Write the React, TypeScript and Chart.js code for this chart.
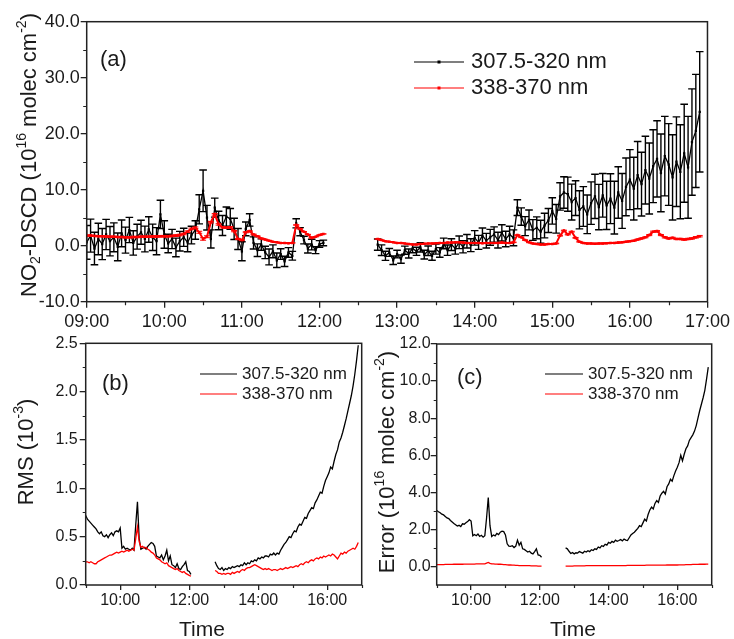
import React, { useEffect, useRef } from 'react';
import { Chart, registerables } from 'chart.js';

Chart.register(...registerables);

// ---------------- DATA ----------------
// sampling times, minutes after midnight (09:00 = 540)
const times = [
  540, 543, 546, 549, 552, 555, 558, 561, 564, 567, 570, 573, 576, 579, 582, 585, 588, 591, 594, 597,
  600, 603, 606, 609, 612, 615, 618, 621, 624, 627, 630, 633, 636, 639, 642, 645, 648, 651, 654, 657,
  660, 663, 666, 669, 672, 675, 678, 681, 684, 687, 690, 693, 696, 699, 702, 705, 708, 711, 714, 717,
  720, 723,
  765, 768, 771, 774, 777, 780, 783, 786, 789, 792, 795, 798, 801, 804, 807, 810, 813, 816, 819, 822,
  825, 828, 831, 834, 837, 840, 843, 846, 849, 852, 855, 858, 861, 864, 867, 870, 873, 876, 879, 882,
  885, 888, 891, 894, 897, 900, 903, 906, 909, 912, 915, 918, 921, 924, 927, 930, 933, 936, 939, 942,
  945, 948, 951, 954, 957, 960, 963, 966, 969, 972, 975, 978, 981, 984, 987, 990, 993, 996, 999, 1002,
  1005, 1008, 1011, 1014,
];

const seriesLabels = ['307.5-320 nm', '338-370 nm'];

// NO2 DSCD, 307.5-320 nm fit (10^16 molec cm^-2)
const no2Uv = [
  0.6, 1.8, -0.5, 1.2, 0.3, 2.0, 0.8, 1.5, -0.2, 2.2, 1.0, 2.8, 0.5, 1.6, 2.4, 1.2, 2.9, 1.5, 0.8, 5.6,
  2.0, 0.4, 1.2, -0.3, 0.8, 1.5, 0.6, 1.9, 2.8, 6.5, 9.8, 5.0, 1.2, 6.8, 4.5, 3.6, 5.2, 4.8, 3.0, 1.2,
  -1.0, 3.0, 4.6, 0.5, -0.8, 0.2, -1.2, -2.0, -1.0, -2.6, -1.5, -2.8, -1.2, -1.8, 4.0, 2.5, 1.0, -0.5, 0.2, -0.8,
  0.3, 0.5,
  0.2, -0.8, -1.8, -1.2, -2.6, -1.5, -2.4, -0.8, -1.4, -0.5, -1.0, -0.3, -1.6, -0.9, -1.8, -0.6, -1.2, 0.4, -0.8, 0.2,
  -0.5, 0.6, -0.2, 0.8, 0.1, 1.4, 0.6, 1.8, 0.9, 1.5, 2.0, 1.0, 2.3, 1.2, 2.0, 1.4, 6.8, 5.2, 3.5, 4.6,
  2.8, 3.2, 2.5, 3.6, 4.5, 6.2, 4.8, 8.8, 9.5, 9.2, 7.8, 8.5, 6.4, 7.0, 5.6, 7.6, 8.8, 6.9, 9.0, 7.2,
  8.4, 6.8, 9.5, 8.0, 10.5, 11.8, 10.2, 12.6, 11.0, 13.5, 12.0, 14.2, 15.5, 13.0, 16.0, 14.5, 12.2, 15.0, 13.2, 16.5,
  14.0, 18.5, 20.5, 23.9,
];

// fit error, 307.5-320 nm (10^16 molec cm^-2)
const no2UvErr = [
  3.02, 2.95, 2.90, 2.82, 2.78, 2.70, 2.62, 2.58, 2.48, 2.40, 2.32, 2.25, 2.18, 2.22, 2.15, 2.30, 2.28, 2.36, 2.42, 2.52,
  2.45, 1.65, 1.72, 1.66, 1.75, 1.62, 1.68, 1.58, 1.66, 2.60, 3.72, 2.20, 1.62, 1.70, 1.65, 1.78, 1.72, 1.85, 1.90, 1.88,
  1.70, 1.22, 1.10, 1.08, 1.12, 1.02, 1.10, 1.42, 1.15, 1.30, 0.95, 0.92, 0.85, 0.78, 0.82, 0.72, 0.68, 0.80, 0.95, 0.62,
  0.60, 0.50,
  1.00, 0.95, 0.82, 0.70, 0.75, 0.68, 0.74, 0.72, 0.80, 0.76, 0.72, 0.82, 0.78, 0.85, 0.80, 0.90, 0.86, 0.95, 0.92, 1.05,
  1.00, 1.12, 1.08, 1.20, 1.15, 1.30, 1.25, 1.35, 1.30, 1.42, 1.36, 1.40, 1.45, 1.38, 1.48, 1.42, 1.40, 1.55, 1.70, 1.78,
  1.85, 1.95, 2.05, 2.20, 2.15, 2.35, 2.55, 2.45, 2.80, 3.05, 3.20, 3.10, 3.40, 3.55, 3.45, 3.80, 3.95, 4.05, 3.90, 4.30,
  4.45, 4.70, 4.60, 4.90, 5.15, 5.35, 5.60, 6.00, 5.70, 6.05, 6.35, 6.50, 6.80, 6.95, 7.10, 7.30, 7.60, 8.00, 8.40, 8.75,
  9.10, 9.50, 10.10, 10.75,
];

// NO2 DSCD, 338-370 nm fit (10^16 molec cm^-2)
const no2Vis = [
  1.8, 1.8, 1.75, 1.7, 1.7, 1.65, 1.6, 1.6, 1.55, 1.55, 1.5, 1.5, 1.55, 1.55, 1.6, 1.6, 1.6, 1.65, 1.65, 1.7,
  1.7, 1.7, 1.75, 1.8, 1.9, 2.1, 2.5, 3.0, 3.2, 2.4, 1.2, 1.6, 4.2, 5.6, 3.8, 3.3, 3.2, 3.3, 2.6, 1.2,
  1.0, 2.4, 2.6, 2.0, 1.7, 1.3, 1.1, 0.9, 0.7, 0.6, 0.5, 0.5, 0.45, 0.5, 3.7, 3.0, 2.5, 2.0, 1.4, 1.6,
  1.9, 2.1,
  1.2, 1.0, 0.8, 0.7, 0.6, 0.5, 0.5, 0.4, 0.3, 0.2, 0.2, 0.3, 0.35, 0.4, 0.4, 0.45, 0.5, 0.5, 0.55, 0.55,
  0.6, 0.6, 0.55, 0.5, 0.5, 0.5, 0.5, 0.45, 0.5, 0.5, 0.5, 0.5, 0.55, 0.5, 0.5, 0.6, 1.9, 1.5, 1.0, 0.6,
  0.4, 0.3, 0.2, 0.2, 0.3, 0.3, 0.4, 1.8, 2.7, 2.0, 2.5, 1.4, 0.7, 0.5, 0.4, 0.4, 0.35, 0.4, 0.4, 0.45,
  0.5, 0.5, 0.55, 0.6, 0.7, 0.8, 0.9, 1.1, 1.3, 1.5, 1.9, 2.5, 2.6, 1.9, 1.5, 1.3, 1.4, 1.2, 1.2, 1.1,
  1.2, 1.3, 1.5, 1.7,
];

// fit error, 338-370 nm (10^16 molec cm^-2)
const no2VisErr = [
  0.10, 0.10, 0.10, 0.10, 0.10, 0.11, 0.11, 0.11, 0.11, 0.11, 0.12, 0.12, 0.12, 0.12, 0.12, 0.12, 0.13, 0.13, 0.13, 0.13,
  0.13, 0.13, 0.13, 0.14, 0.14, 0.14, 0.14, 0.14, 0.14, 0.18, 0.22, 0.17, 0.14, 0.14, 0.13, 0.13, 0.12, 0.12, 0.11, 0.10,
  0.10, 0.09, 0.08, 0.08, 0.07, 0.07, 0.06, 0.06, 0.05, 0.05, 0.05, 0.04, 0.04, 0.04, 0.04, 0.03, 0.03, 0.03, 0.03, 0.02,
  0.02, 0.02,
  0.02, 0.02, 0.02, 0.02, 0.02, 0.03, 0.03, 0.03, 0.03, 0.03, 0.03, 0.03, 0.04, 0.04, 0.04, 0.04, 0.04, 0.04, 0.04, 0.04,
  0.05, 0.05, 0.05, 0.05, 0.05, 0.05, 0.05, 0.05, 0.05, 0.05, 0.05, 0.05, 0.05, 0.05, 0.05, 0.05, 0.06, 0.06, 0.06, 0.06,
  0.06, 0.06, 0.06, 0.06, 0.06, 0.06, 0.06, 0.07, 0.07, 0.07, 0.07, 0.07, 0.07, 0.07, 0.07, 0.07, 0.07, 0.07, 0.07, 0.08,
  0.08, 0.08, 0.08, 0.08, 0.08, 0.08, 0.09, 0.09, 0.09, 0.09, 0.10, 0.10, 0.10, 0.10, 0.11, 0.11, 0.11, 0.11, 0.12, 0.12,
  0.12, 0.12, 0.13, 0.13,
];

// fit RMS (10^-3)
const rmsUv = [
  0.72, 0.68, 0.66, 0.64, 0.62, 0.60, 0.58, 0.55, 0.53, 0.55, 0.51, 0.50, 0.52, 0.49, 0.52, 0.54, 0.51, 0.55, 0.56, 0.55,
  0.59, 0.38, 0.40, 0.37, 0.38, 0.37, 0.36, 0.38, 0.36, 0.62, 0.86, 0.48, 0.37, 0.38, 0.39, 0.37, 0.40, 0.42, 0.44, 0.43,
  0.40, 0.30, 0.29, 0.28, 0.31, 0.26, 0.30, 0.36, 0.25, 0.30, 0.21, 0.20, 0.18, 0.22, 0.17, 0.16, 0.19, 0.21, 0.24, 0.15,
  0.14, 0.11,
  0.24, 0.20, 0.17, 0.16, 0.18, 0.15, 0.17, 0.16, 0.18, 0.17, 0.19, 0.18, 0.19, 0.20, 0.19, 0.21, 0.20, 0.23, 0.21, 0.23,
  0.22, 0.25, 0.24, 0.26, 0.25, 0.28, 0.27, 0.29, 0.28, 0.30, 0.30, 0.29, 0.32, 0.31, 0.33, 0.31, 0.33, 0.32, 0.36, 0.39,
  0.42, 0.44, 0.47, 0.50, 0.49, 0.53, 0.56, 0.55, 0.60, 0.63, 0.62, 0.66, 0.70, 0.69, 0.74, 0.77, 0.80, 0.79, 0.85, 0.88,
  0.92, 0.96, 0.95, 1.02, 1.08, 1.12, 1.16, 1.22, 1.20, 1.28, 1.35, 1.40, 1.48, 1.52, 1.58, 1.65, 1.72, 1.80, 1.88, 1.96,
  2.06, 2.18, 2.32, 2.48,
];

const rmsVis = [
  0.24, 0.24, 0.23, 0.24, 0.23, 0.22, 0.22, 0.24, 0.25, 0.26, 0.27, 0.28, 0.29, 0.30, 0.31, 0.31, 0.32, 0.33, 0.34, 0.33,
  0.34, 0.35, 0.34, 0.35, 0.36, 0.35, 0.36, 0.37, 0.36, 0.48, 0.60, 0.45, 0.39, 0.40, 0.38, 0.39, 0.37, 0.36, 0.34, 0.33,
  0.31, 0.28, 0.27, 0.26, 0.24, 0.23, 0.22, 0.23, 0.20, 0.19, 0.18, 0.17, 0.16, 0.17, 0.15, 0.14, 0.13, 0.14, 0.12, 0.11,
  0.10, 0.09,
  0.15, 0.14, 0.12, 0.12, 0.11, 0.12, 0.11, 0.12, 0.12, 0.11, 0.13, 0.12, 0.13, 0.14, 0.13, 0.15, 0.16, 0.15, 0.17, 0.18,
  0.18, 0.19, 0.20, 0.21, 0.20, 0.19, 0.18, 0.17, 0.16, 0.17, 0.16, 0.17, 0.16, 0.15, 0.16, 0.16, 0.15, 0.16, 0.17, 0.16,
  0.17, 0.18, 0.17, 0.18, 0.19, 0.18, 0.19, 0.20, 0.19, 0.21, 0.22, 0.21, 0.23, 0.24, 0.23, 0.25, 0.26, 0.25, 0.27, 0.28,
  0.27, 0.29, 0.28, 0.30, 0.29, 0.30, 0.31, 0.30, 0.32, 0.31, 0.29, 0.27, 0.30, 0.33, 0.32, 0.34, 0.33, 0.35, 0.36, 0.37,
  0.38, 0.37, 0.40, 0.44,
];

// axis ticks
const topXTicks = [540, 600, 660, 720, 780, 840, 900, 960, 1020];
const topXMinor = [570, 630, 690, 750, 810, 870, 930, 990];
const topYTicks = [-10, 0, 10, 20, 30, 40];
const topYMinor = [-5, 5, 15, 25, 35];
const botXTicks = [600, 720, 840, 960];
const botXMinor = [540, 660, 780, 900, 1020];
const rmsYTicks = [0, 0.5, 1.0, 1.5, 2.0, 2.5];
const rmsYMinor = [0.25, 0.75, 1.25, 1.75, 2.25];
const errYTicks = [0, 2, 4, 6, 8, 10, 12];
const errYMinor = [1, 3, 5, 7, 9, 11];

// ---------------- HELPERS ----------------
const FONT = "'Liberation Sans', Arial, Helvetica, sans-serif";
const TEXT = '#1a1a1a';
const AXIS = '#222';
const W = 734;
const H = 639;

function fmtTime(m: number) {
  const h = Math.floor(m / 60);
  const mm = Math.round(m % 60);
  return String(h).padStart(2, '0') + ':' + String(mm).padStart(2, '0');
}

function pts(vals: number[]) {
  const out: { x: number; y: number | null }[] = [];
  times.forEach((t, i) => {
    if (i > 0 && t - times[i - 1] > 10) out.push({ x: (t + times[i - 1]) / 2, y: null });
    out.push({ x: t, y: vals[i] });
  });
  return out;
}

function errs(vals: number[]) {
  const out: (number | null)[] = [];
  times.forEach((t, i) => {
    if (i > 0 && t - times[i - 1] > 10) out.push(null);
    out.push(vals[i]);
  });
  return out;
}

type Seg = { t: string; s: number };

function drawRich(ctx: CanvasRenderingContext2D, segs: Seg[], cx: number, cy: number, size: number, rotate: boolean) {
  ctx.save();
  ctx.translate(cx, cy);
  if (rotate) ctx.rotate(-Math.PI / 2);
  const small = Math.round(size * 0.62);
  const widths = segs.map((s) => {
    ctx.font = `${s.s ? small : size}px ${FONT}`;
    return ctx.measureText(s.t).width;
  });
  const total = widths.reduce((a, b) => a + b, 0);
  let x = -total / 2;
  ctx.textBaseline = 'middle';
  ctx.textAlign = 'left';
  ctx.fillStyle = TEXT;
  segs.forEach((s, i) => {
    ctx.font = `${s.s ? small : size}px ${FONT}`;
    const dy = s.s === 1 ? -size * 0.36 : s.s === -1 ? size * 0.3 : 0;
    ctx.fillText(s.t, x, dy);
    x += widths[i];
  });
  ctx.restore();
}

const decorPlugin = {
  id: 'panelDecor',
  afterDatasetDraw(chart: any, args: any) {
    const ds = chart.data.datasets[args.index];
    if (!ds.errors) return;
    const ctx: CanvasRenderingContext2D = chart.ctx;
    const xs = chart.scales.x;
    const ys = chart.scales.y;
    const a = chart.chartArea;
    ctx.save();
    ctx.beginPath();
    ctx.rect(a.left, a.top, a.right - a.left, a.bottom - a.top);
    ctx.clip();
    ctx.beginPath();
    ctx.strokeStyle = ds.errColor;
    ctx.lineWidth = ds.errWidth;
    ds.data.forEach((p: any, i: number) => {
      const e = ds.errors[i];
      if (p.y == null || e == null) return;
      const px = xs.getPixelForValue(p.x);
      const y1 = ys.getPixelForValue(p.y - e);
      const y2 = ys.getPixelForValue(p.y + e);
      const h = ds.capHalf;
      ctx.moveTo(px, y1);
      ctx.lineTo(px, y2);
      ctx.moveTo(px - h, y1);
      ctx.lineTo(px + h, y1);
      ctx.moveTo(px - h, y2);
      ctx.lineTo(px + h, y2);
    });
    ctx.stroke();
    ctx.restore();
  },
  afterDraw(chart: any, _args: any, opts: any) {
    const ctx: CanvasRenderingContext2D = chart.ctx;
    const a = chart.chartArea;
    const xs = chart.scales.x;
    const ys = chart.scales.y;
    ctx.save();
    // frame
    ctx.strokeStyle = AXIS;
    ctx.lineWidth = 1.5;
    ctx.strokeRect(a.left, a.top, a.right - a.left, a.bottom - a.top);
    // minor ticks
    ctx.lineWidth = 1.2;
    ctx.beginPath();
    (opts.xMinor || []).forEach((v: number) => {
      const px = Math.round(xs.getPixelForValue(v)) + 0.5;
      ctx.moveTo(px, a.bottom);
      ctx.lineTo(px, a.bottom + opts.minorLen);
    });
    (opts.yMinor || []).forEach((v: number) => {
      const py = Math.round(ys.getPixelForValue(v)) + 0.5;
      ctx.moveTo(a.left, py);
      ctx.lineTo(a.left - opts.minorLen, py);
    });
    ctx.stroke();
    // y title
    if (opts.yTitle) drawRich(ctx, opts.yTitle, opts.yTitleX, opts.yTitleY, opts.yTitleSize, true);
    // x title
    if (opts.xTitle) drawRich(ctx, [{ t: opts.xTitle, s: 0 }], opts.xTitleX, opts.xTitleY, opts.xTitleSize, false);
    // panel label
    ctx.fillStyle = TEXT;
    ctx.font = `${opts.panelSize}px ${FONT}`;
    ctx.textAlign = 'left';
    ctx.textBaseline = 'middle';
    ctx.fillText(opts.panelLabel, opts.panelX, opts.panelY);
    // legend
    const lg = opts.legend;
    chart.data.datasets.forEach((ds: any, k: number) => {
      const y = lg.y + k * lg.gap;
      ctx.strokeStyle = ds.borderColor;
      ctx.lineWidth = lg.lineWidth;
      ctx.beginPath();
      ctx.moveTo(lg.x, y);
      ctx.lineTo(lg.x + lg.len, y);
      ctx.stroke();
      if (lg.marker) {
        ctx.fillStyle = ds.borderColor;
        ctx.fillRect(lg.x + lg.len / 2 - 1.5, y - 1.5, 3, 3);
      }
      ctx.fillStyle = TEXT;
      ctx.font = `${lg.size}px ${FONT}`;
      ctx.textAlign = 'left';
      ctx.textBaseline = 'middle';
      ctx.fillText(ds.label, lg.x + lg.len + lg.textGap, y);
    });
    ctx.restore();
  },
};

function xScale(ticksArr: number[], height: number, fontSize: number, pad: number, tl: number) {
  return {
    type: 'linear',
    min: 540,
    max: 1020,
    afterBuildTicks: (s: any) => {
      s.ticks = ticksArr.map((v) => ({ value: v }));
    },
    afterFit: (s: any) => {
      s.height = height;
    },
    ticks: {
      callback: (v: any) => fmtTime(Number(v)),
      font: { family: FONT, size: fontSize },
      color: TEXT,
      padding: pad,
      maxRotation: 0,
      autoSkip: false,
    },
    grid: { drawOnChartArea: false, drawTicks: true, tickLength: tl, color: AXIS, lineWidth: 1.3 },
    border: { display: false },
  };
}

function yScale(ticksArr: number[], min: number, max: number, width: number, fontSize: number, pad: number, tl: number) {
  return {
    type: 'linear',
    min,
    max,
    afterBuildTicks: (s: any) => {
      s.ticks = ticksArr.map((v) => ({ value: v }));
    },
    afterFit: (s: any) => {
      s.width = width;
    },
    ticks: {
      callback: (v: any) => Number(v).toFixed(1),
      font: { family: FONT, size: fontSize },
      color: TEXT,
      padding: pad,
    },
    grid: { drawOnChartArea: false, drawTicks: true, tickLength: tl, color: AXIS, lineWidth: 1.3 },
    border: { display: false },
  };
}

// panel rectangles (page pixels)
function padFor(L: number, R: number, T: number, B: number, xH: number) {
  return { left: 0, right: W - R, top: T, bottom: H - B - xH };
}

function topConfig(): any {
  const L = 86.7, R = 710.7, T = 21.7, B = 301.7, xH = 40;
  return {
    type: 'line',
    data: {
      datasets: [
        {
          label: seriesLabels[0], data: pts(no2Uv), errors: errs(no2UvErr), errColor: '#000', errWidth: 1.4, capHalf: 3.8,
          borderColor: '#000', backgroundColor: '#000', borderWidth: 1.3, pointStyle: 'rect', pointRadius: 1.6,
          pointBorderWidth: 0, order: 1,
        },
        {
          label: seriesLabels[1], data: pts(no2Vis), errors: errs(no2VisErr), errColor: '#ff0000', errWidth: 1, capHalf: 3,
          borderColor: '#ff0000', backgroundColor: '#ff0000', borderWidth: 2, pointStyle: 'rect', pointRadius: 1.8,
          pointBorderWidth: 0, order: 0,
        },
      ],
    },
    options: {
      responsive: false, animation: false, events: [],
      layout: { padding: padFor(L, R, T, B, xH) },
      scales: {
        x: xScale(topXTicks, xH, 18, 4, 6),
        y: yScale(topYTicks, -10, 40, L, 18, 1, 6),
      },
      plugins: {
        legend: { display: false }, tooltip: { enabled: false },
        panelDecor: {
          xMinor: topXMinor, yMinor: topYMinor, minorLen: 3.5,
          yTitle: [
            { t: 'NO', s: 0 }, { t: '2', s: -1 }, { t: '-DSCD (10', s: 0 }, { t: '16', s: 1 },
            { t: ' molec cm', s: 0 }, { t: '-2', s: 1 }, { t: ')', s: 0 },
          ],
          yTitleX: 30, yTitleY: 155, yTitleSize: 22,
          panelLabel: '(a)', panelX: 100, panelY: 60, panelSize: 22,
          legend: { x: 414, y: 62, gap: 26, len: 50, textGap: 7, size: 22, lineWidth: 1.2, marker: true },
        },
      },
    },
    plugins: [decorPlugin],
  };
}

function rmsConfig(): any {
  const L = 85.7, R = 361.7, T = 343.3, B = 585, xH = 50;
  return {
    type: 'line',
    data: {
      datasets: [
        { label: seriesLabels[0], data: pts(rmsUv), borderColor: '#000', borderWidth: 1.3, pointRadius: 0, order: 1 },
        { label: seriesLabels[1], data: pts(rmsVis), borderColor: '#ff0000', borderWidth: 1.3, pointRadius: 0, order: 0 },
      ],
    },
    options: {
      responsive: false, animation: false, events: [],
      layout: { padding: padFor(L, R, T, B, xH) },
      scales: {
        x: xScale(botXTicks, xH, 16, 1, 5),
        y: yScale(rmsYTicks, 0, 2.5, L, 16, 2, 6),
      },
      plugins: {
        legend: { display: false }, tooltip: { enabled: false },
        panelDecor: {
          xMinor: botXMinor, yMinor: rmsYMinor, minorLen: 3,
          yTitle: [{ t: 'RMS (10', s: 0 }, { t: '-3', s: 1 }, { t: ')', s: 0 }],
          yTitleX: 27, yTitleY: 452, yTitleSize: 22,
          xTitle: 'Time', xTitleX: 202, xTitleY: 630, xTitleSize: 21,
          panelLabel: '(b)', panelX: 102, panelY: 384, panelSize: 22,
          legend: { x: 200, y: 374, gap: 20, len: 37, textGap: 5, size: 17, lineWidth: 1.2, marker: false },
        },
      },
    },
    plugins: [decorPlugin],
  };
}

function errConfig(): any {
  const L = 436.7, R = 711.7, T = 344, B = 585, xH = 50;
  return {
    type: 'line',
    data: {
      datasets: [
        { label: seriesLabels[0], data: pts(no2UvErr), borderColor: '#000', borderWidth: 1.3, pointRadius: 0, order: 1 },
        { label: seriesLabels[1], data: pts(no2VisErr), borderColor: '#ff0000', borderWidth: 1.3, pointRadius: 0, order: 0 },
      ],
    },
    options: {
      responsive: false, animation: false, events: [],
      layout: { padding: padFor(L, R, T, B, xH) },
      scales: {
        x: xScale(botXTicks, xH, 16, 1, 5),
        y: yScale(errYTicks, -1, 12, L, 16, 0, 6),
      },
      plugins: {
        legend: { display: false }, tooltip: { enabled: false },
        panelDecor: {
          xMinor: botXMinor, yMinor: errYMinor, minorLen: 3,
          yTitle: [
            { t: 'Error (10', s: 0 }, { t: '16', s: 1 }, { t: ' molec cm', s: 0 }, { t: '-2', s: 1 }, { t: ')', s: 0 },
          ],
          yTitleX: 388, yTitleY: 462, yTitleSize: 22,
          xTitle: 'Time', xTitleX: 573, xTitleY: 630, xTitleSize: 21,
          panelLabel: '(c)', panelX: 457, panelY: 378, panelSize: 22,
          legend: { x: 545, y: 374, gap: 20, len: 38, textGap: 5, size: 17, lineWidth: 1.2, marker: false },
        },
      },
    },
    plugins: [decorPlugin],
  };
}

export default function App() {
  const r1 = useRef<HTMLCanvasElement>(null);
  const r2 = useRef<HTMLCanvasElement>(null);
  const r3 = useRef<HTMLCanvasElement>(null);

  useEffect(() => {
    const charts = [
      new Chart(r1.current as HTMLCanvasElement, topConfig()),
      new Chart(r2.current as HTMLCanvasElement, rmsConfig()),
      new Chart(r3.current as HTMLCanvasElement, errConfig()),
    ];
    return () => charts.forEach((c) => c.destroy());
  }, []);

  const st: React.CSSProperties = { position: 'absolute', left: 0, top: 0, width: W, height: H };
  return (
    <div style={{ position: 'absolute', left: 0, top: 0, width: W, height: H, background: '#fff', overflow: 'hidden' }}>
      <canvas ref={r1} width={W} height={H} style={st} />
      <canvas ref={r2} width={W} height={H} style={st} />
      <canvas ref={r3} width={W} height={H} style={st} />
    </div>
  );
}
